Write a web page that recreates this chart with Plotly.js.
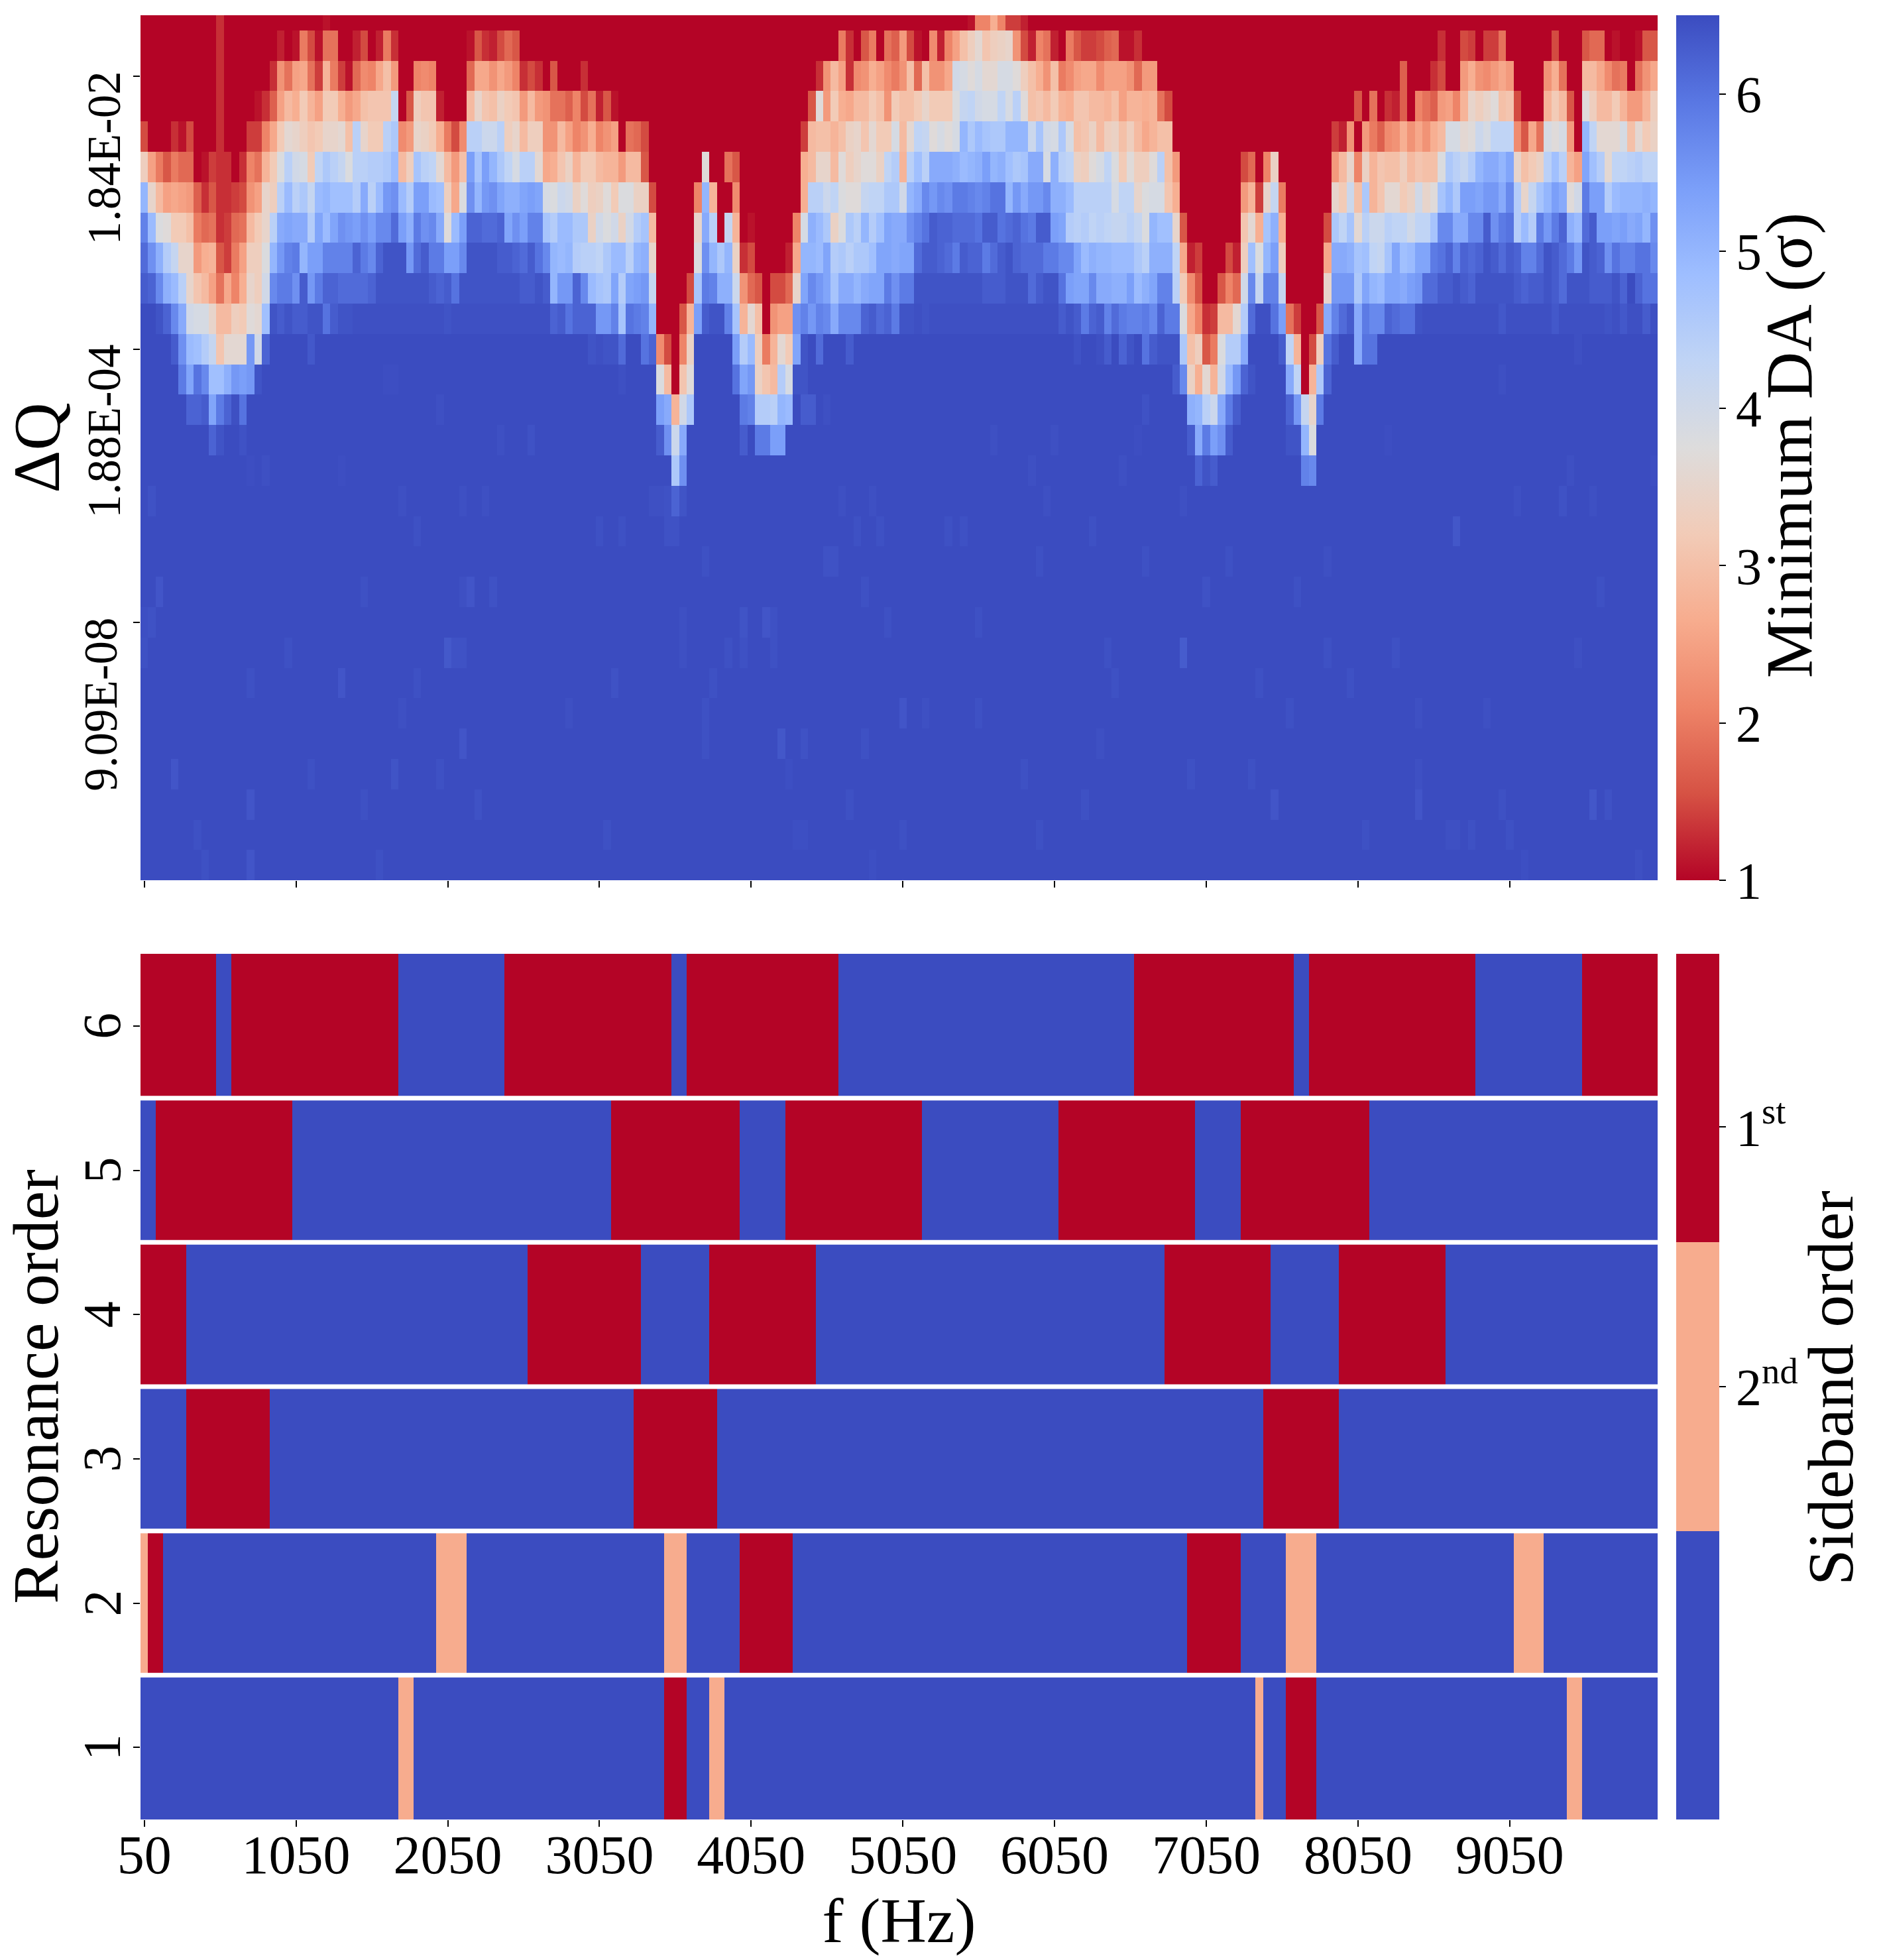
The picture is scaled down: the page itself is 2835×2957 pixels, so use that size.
<!DOCTYPE html>
<html>
<head>
<meta charset="utf-8">
<script src="https://cdn.plot.ly/plotly-3.0.1.min.js"></script>
<style>body { margin: 0; background: white; }</style>
</head>
<body>
<div id="chart"></div>
<script>
// top panel: minimum DA per row of dQ, each row is a list of runs [first bin, v, v, v...]
var row_00 = [[10,1.3],[24,1.1],[109,1.1,2.1,2.1,2.7,2.1,1.4,1.4,1.2]]
var row_01 = [[10,1.3],[18,1.2,1,1.1,2,1.5,1.1,1.9,1.9,1,1,1.2,1.5,1,1.2,2,1.3],[43,1.1,1.6,1.3,1.2,1.5,1.8,1.6],
    [92,2,1.3,1,1.6,2,1,1.9,1.7,2.4,1.5,1.1,1,2.2,1.2,2.1,2.5,3,3.3,3.6,3.1,3.3,3.4,3.5,2.3,1.5,1.2,2.1,1.9,1.2,1,2,1.6,1.4,1.4,1.5,1.7,1.8,1.1,1.1,1.3],
    [171,1.3],[174,1.5,1.4,1,1.4,1.4,1.9],[186,1.5],[190,1.6,1.8,1.8,1,1.1,1,1,1.1,1.6,1.6]]
var row_02 = [[10,1.3],[17,1.3,2.3,1.9,2.5,2.6,1.9,1.4,2.8,2,1.4,1.1,1.8,2.2,2.1,2.6,3,2.4],[36,2.1,2.2,2.1],[43,1.8,2.6,2.6,2.3,2.6,2.4,2.1,1.3,1.5,1.3,1,1.6],[58,1.3],
    [89,1.3,2.3,2.9,2.5,1.3,2.2,2.3,2.7,2.5,2.2,2,2.3,3,1.8,3,2.3,2.3,2.6,4,3.9,3.7,3.9,3.6,3.6,3.9,3.9,3.7,3.3,3,2.7,2.3,3,2,2.2,2.5,2.6,2.6,2.2,2.5,2.5,2.5,2.3,1.8,2.4,2.4],
    [166,1.7],[170,1.3,1.5],[174,2.4,2.7,2.3,2.2,2.4,2.6,2.4],[185,2.3,2.7,1.9],[190,2.9,2.9,2.6,2.2,1.9,2,1,1.9,2.3,2.6]]
var row_03 = [[10,1.3],[15,1.1,1.3,1.7,2.5,2.9,2.7,3.2,2.8,2.5,3.2,3.2,2.7,2.4,2.6,3,3.1,3.1,3.1,4.2,1,1.6,3.3,3.1,3.1,1.2],[43,2.9,3.5,3.1,3,3.4,3.2,3.1,2.4,2.9,2.4,2.3,1.9,1.9,1.7,2.1,1.5,1.9,1.2,1.6,1.1],
    [88,1.6,3.7,2.4,3.2,2.7,2.6,2.9,2.9,3.2,3,2.3,3.2,3,3,3.2,3.5,3.2,3.2,3.2,3.8,4.2,4.3,4,3.9,3.9,4.3,3.9,4.4,3.7,3,3.1,2.9,3.2,2.8,2.7,3.1,3.1,2.9,2.9,2.8,3,2.5,2.8,2.8,2.7,2.8,1.9,1.5],
    [160,1.6,1,1.9,1,1.3,1.2,1.7,1,2.1,1.9,1.7,2.4,2.5,2.1,2.8,3.5,3.3,3.5,3.7,3,3.1,1.5],[185,2.8,3.2,2.9,1.6,1,3.7,3.3,2.9,2.9,3.2,2.8,2.4,2.4,2.8,3.3]]
var row_04 = [[0,1.5,1,1,1,1.3,1.1,1.5],[10,1.3],[14,1.4,1.4,2.1,2.6,3.2,3.6,3.5,3.3,3.1,3.2,3.5,3.5,3.6,3,4.4,3.5,3.2,3.2,4.4,4.6,2.2,2.4,3.5,3.4,3.2,2.7,2,1.5,2.2,4.4,4.4,4.1,4.1,4.4,3.3,3.5,2.9,3.3,3.3,2.3,2.3,2.9,2.5,2.1,2.3,2.7,2.1,2.3,2.5,1,1.9,1.8,1.5],
    [87,1.4,2.9,3,3,2.8,3,3.4,3.5,3.1,3.6,3.2,3.2,3.9,2.9,3.6,4.3,4.2,3.7,3.9,3.7,3.9,5,4.6,4.9,4.7,4.6,4.6,5,5,5,4.1,4.7,4,3.9,4.6,3.9,3,3.1,3.4,2.9,3.3,3.4,3,3.3,2.9,2.6,2.8,3,3],
    [157,1.4,1.2,2.3,1,2.4,2,1.7,2.2,2.3,2.7,2.3,2.6,2.3,2.7,2.9,3.9,3.9,3.6,3.7,4.1,3.9,4.3,4.3,4.3,2.2,1.6,2.6,1.9,3.9,3.7,3.9,2.4,1,5,4.3,3.6,3.6,3.6,3.9,3,3.6,3.2,3.4]]
var row_05 = [[0,3.3,2.5,2,1.6,2,1.8,1.8,1,1.1,1.4,1.3,1.3,1,1.3,2.1,1.9,2.8,3.2,3.8,4.4,4,3.9,3.2,4.3,4.6,4.4,4.2,3.8,4.4,4.4,4.5,4.5,4.6,4.9,2.9,3.3,4.7,4.4,4.3,3.6,2.9,2.4,3,5.4,4.7,5.4,5,4.6,4.3,3.9,4.4,4.4,3.6,2.6,2.7,3.1,3.4,2.8,3.2,3.2,2.9,2.8,2.8,2.4,2.9,2.9,1.6],
    [74,3.7],[77,1.9,1.6],[87,2.7,2.9,3.5,3.5,2.9,3.7,3.3,3.5,3.7,3.7,3.4,4.3,4.5,2.8,4.4,4.8,4.4,5.2,5.2,5.2,5.1,4.9,5,5.1,5.4,5,5.1,4.8,4.6,4.7,5.2,5.2,3.9,5.1,4.4,4.3,3.4,3.3,3.7,3.9,4.3,3.8,3.2,3.7,3.3,3.3,3.7,4.4,3,2.4],
    [145,1.5,1.8,1,2.1,3.4],[157,2.4,2.9,3.5,2.1,3.4,2.8,3.1,3,3,3.3,2.9,3.1,3,3,3.8,4.6,4.4,4.2,4.5,5,5.2,5.2,5,5.3,3.5,3,3.2,3.4,4.4,4.8,4.4,2.8,2.5,5.3,4.8,4.5,3.6,4.3,4.3,4.4,4.5,4.3,4.3]]
var row_06 = [[0,5,3.5,2.9,2.5,2.6,2.5,2.4,1.7,1.3,1.6,1.3,1.3,1.4,1.5,2.3,2.5,3.5,3.3,4.4,4.9,4.4,4.6,4.2,4.9,5,4.8,4.8,4.8,4.5,5.2,4.4,4.9,5.5,5.6,4.9,4.5,5.4,5.4,4.9,4.8,3.3,2.6,3.8,5.6,5,5.5,5.6,5.3,5.1,5.1,5.3,5.4,5.3,3.9,3.8,4.1,4,3.4,3.7,3.3,3.4,3.7,3.2,3.8,3.8,3.4,3.4,1.5],
    [73,2.1,5,2.8],[78,2.2],[87,2.7,4.4,4.4,4.1,4.3,3.8,3.7,3.7,4.2,4.3,4.3,4.6,4.6,4,5,5.2,5.7,5.5,5.7,5.6,5.9,5.9,5.8,5.7,5.8,6,6,5,5.5,5.2,5.5,5.5,5.7,5.1,5.1,4.9,4.4,4.4,4.4,4.4,4.4,3.9,4.3,4.3,3.5,3.8,3.9,3.9,3.1,2.7],
    [145,2.4,2.8,1.4,3.5,4.2,2],[157,3.5,3.2,4.1,3,4.6,2.8,3.1,3.6,3.6,3.2,3.4,4,3.5,3.7,4.7,5,4.6,5.4,5.4,5.3,5.5,5.5,5.2,5.7,4.5,3.5,4.2,4.7,5,5.4,5.2,3.7,4,5.9,5.4,5.4,4.5,4.9,5,5,5,5.1,5]]
var row_07 = [[0,5.8,4.9,3.8,3.7,3.2,3.2,3,2,1.8,1.9,1.3,1.4,1.8,1.9,2.9,3.2,3.5,4.4,5.2,5.3,5.2,5.2,4.5,5.3,4.9,5.3,5.6,5.5,5.4,5.6,5.4,5.7,5.7,6.1,5.4,5.1,5.9,5.6,5.7,5.2,3.7,4.9,5.4,6.2,6.2,6.1,6.1,6.2,5.3,5.6,5.4,5.8,5.8,4.7,4.5,4.9,4.9,4.6,4.6,3.4,4,3.8,4,3.4,4,4.5,4.7,2.9],
    [73,3.5,5.2,4.4,1,4.2,2.8,1,1.1],[86,2.1,3.9,5.1,4.9,4.6,3.4,3.8,4.6,4.4,5,4.5,4.8,5.3,5.2,5.2,5.6,5.8,6,6.3,6.2,6.2,6.1,6.1,6.1,6,6.3,6.3,6,6.1,6.2,6,5.9,6.3,6.3,5.4,5.3,4.5,4.4,4.5,4.3,4.4,4.3,4.2,4.2,4.4,4.2,3.8,5,4.8,4.8,3.5,1.6],
    [145,3.1,3.6,2.7,4.7,5.1,2.7],[156,1.5,4.6,4.3,4.7,3.6,4.4,4.1,4.1,4.4,4.3,4.3,4,4.3,4.3,4.7,5.7,5.7,5.2,5.2,5.7,5.7,6.3,5.6,5.9,6,4.5,4.9,4.5,5.9,5.5,5.9,6.2,5.1,4.9,6.1,6.3,5.4,5.4,5.3,5.4,5.2,5.3,5,5.6]]
var row_08 = [[0,6.1,5.6,5.1,4.5,4.2,3.5,3.5,2.4,2.7,2.8,1.6,1.4,2,2.5,3.3,3.3,3.8,5,5.5,5.8,5.9,5,5.4,5.4,5.8,5.8,5.8,5.8,6.2,5.9,5.7,6.2,6.4,6.4,6.4,5.5,6.1,6.3,5.9,5.9,5.4,5.4,5.7,6.4,6.4,6.4,6.4,6.3,6.3,6.2,6.1,6.3,6,5.7,5,4.9,5,4.5,4.4,4.4,4.3,4.6,4.9,4.9,4.4,5,5.1,3.5],
    [73,3.8,5.6,5,4.6,5,3.4,1.3,1.5],[85,1.2,2.6,5,5,4.9,5.3,4.5,4.6,4.4,4.6,4.6,4.8,5.3,5.3,5.2,5.3,5.3,6.1,6.3,6.3,6.2,6.1,5.9,6.3,6.2,6.2,5.9,6.1,6.3,6.4,6.2,6.1,6.1,6.1,5.9,5.9,5.7,5.7,5.3,4.9,5.1,5,5,4.9,4.9,4.9,4.6,4.4,5.1,5.1,5.1,4.3,2.6,1.2,1.4],
    [143,1.5,1.2,3.3,4.8,3.8,5,5.4,3.3],[156,2.6,5.2,5.2,5.1,4.7,4.8,4.3,4.2,4.7,5.3,4.8,4.9,5.3,5.3,5.9,6,6.2,5.8,6.2,6.1,6.2,6.4,6.3,6.1,6.3,6.2,5.8,5.8,6.1,6.4,6.3,6.1,5.9,5.5,6.4,6.3,6.2,5.6,6,5.8,5.8,6,6,5.7]]
var row_09 = [[0,6.3,6.2,5.7,5.1,4.9,4.4,3.5,3.1,2.9,2.5,1.9,2.6,2.1,2.7,3.5,3.3,4,5.7,5.9,5.9,5.6,6.3,5.5,5.9,6.2,6.2,6.1,6.1,6.1,6.1,6.2,6.4,6.4,6.4,6.4,6.4,6.4,6.4,6.3,6.2,6.3,6,6.4,6.4,6.4,6.4,6.4,6.4,6.4,6.4,6.3,6.3,6.4,6.3,5,5.5,5.5,6.2,5.7,4.9,4.7,4.6,5.3,4.5,5.3,5.4,5.5,4.2],
    [72,1.5,4.7,5.9,5.8,5.1,5.1,4.1,2.3,1.8,1.6,1,1.5,1.5,1.8,3.5,5.3,5.7,5.5,5.3,4.7,5.2,5.2,5,5.2,5.3,5.3,5.9,5.6,5.9,5.9,6.4,6.4,6.4,6.4,6.4,6.4,6.4,6.4,6.4,6.3,6.3,6.3,6.4,6.4,6.4,6.1,6.3,6.4,6.4,6,5.4,5.3,5.3,5.7,5.2,5.2,5.1,5.1,5.4,4.9,5.1,5.3,5.8,5.8,4.4,3.2,2.2,1.6],
    [142,1.6,2.1,1.8,4,5.7,4.2,5.8,5.8,4.2],[156,3.5,5.5,5.5,5.5,4.6,5.3,5,4.9,5.3,5.3,5.2,5.4,5.5,6.1,6.1,6.3,6.3,6.4,6.3,6.2,6.4,6.4,6.4,6.4,6.4,6.3,6.2,6.3,6.3,6.4,6.3,6.1,6.4,6.4,6.4,6.3,6.3,6.3,6.4,6.2,6.5,6.2,6,6]]
var row_10 = [[0,6.5,6.5,6.4,6.2,5.7,5.2,4,3.9,3.9,3.5,2.9,2.9,3.3,3.2,3.7,3.6,4.8,6.4,6.3,6.4,6.3,6.3,6.4,6.4,6,6.3,6.4,6.4],[40,6.4],
    [54,6.2,6.3,6,6.2,6.2,6.2,5.5,5.5,5.8,4.7,6,5.9,5.8,5,1,1,1,1.6,2.8,5.4,6.3,6.4,6.4,5.8,4.7,2.8,3.6,3,1,2.3,2.5,2.5,5.6,5.8,5.5,5.8,5.7,5.2,5.7,5.7,5.7,6.2,6.3,6.1,6.2,5.9,6.4,6.4,6.45,6.4],
    [121,6.3,6.4,6.3,5.9,6.2,6.3,5.8,6.1,5.9,5.8,5.8,5.9,5.7,6.2,5.9,5.9,3.8,2.6,2.1,1.3,1.4,2.9,2.9,3.6,4.5,6.1,6.45,6.45,6,5.4,1.9,1.4,1,1,1.6,5.2,5.8,6.1,6.3,5.2,5.9,5.7,5.7,6.2,6.1,6,6,6.4],
    [179,6.35],[186,6.35],[193,6.4],[195,6.35],[198,6.3]]
var row_11 = [[4,6.3,5.6,4.9,4.8,4.5,4.2,3.1,3.6,3.6,3.6,5.5,4,6.2],[22,6.35],[59,6.4,6.45,6.4,6.4,6.1,6.5,6.5,6,6.2,2.2,1.5,1,2.1,3.4],[78,5.4,4.5,4.9,3.3,2,2.8,3.6,3.2,5.3,6.4],[89,6.1],[93,6.3],[123,6.42],[126,6.45,6.3,6.5,6.2],
    [130,6.4,6.5,6,6.3,6.4,6.4,6.4,4.6,3,3.3,1.6,2,3.8,4.5,4.5,5.2],[150,6.3,4.3,2.8,1,1.5,3.3,6,6.3,6.5,6.5,5.2,6,6],[189,6.45]]
var row_12 = [[5,5.9,5.3,6,5.7,4.8,4.8,5.1,5.5,5.4,5.5,6.4],[32,6.47,6.47],[63,6.45],[68,3.8,2.9,1,3.1,3.7],[78,6,5.3,5.5,3.4,3.1,2.9,4.5,3.9,6.4,6.4],[136,6.3,5.7,3.4,2.7,3.6,2.8,4,4.9,5.5,6.2,6.4],[151,5.2,4.3,1,2.8,4.6,6.2],[179,6.45]]
var row_13 = [[6,6.2,6.2,6.3,5.3,5.9,6.2,6.45,6],[39,6.45],[68,5.4,5.2,2.8,4,4.6],[79,5.9,5.8,4.5,4.5,4.4,5,4.9],[87,6.3,6.3],[90,6.45],[132,6.42],[138,5.1,5,4.4,4.1,5.2,5.9,6.3],[151,6.2,5.5,4.2,3.5,5.9]]
var row_14 = [[9,6.2,6.4],[13,6.42],[47,6.45],[51,6.42],[68,6.3,5.6,4.1,5.2],[79,6.3],[81,5.9,5.9,5.4,5.4],[112,6.45],[120,6.45],[131,6.47],[138,6.3,5.2,5.9,5.4,5.6,6.3],[151,6.4,6.4,5,3.8],[164,6.47]]
var row_15 = [[14,6.47],[16,6.45],[26,6.47],[70,4.6,5.6],[117,6.45],[129,6.45],[139,6.2,6.4,6.3],[153,5.8,5.7],[188,6.45],[199,6.47]]
var row_16 = [[1,6.42],[34,6.45],[42,6.45],[45,6.45],[67,6.45,6.45,6.42,6.2,6.4],[92,6.45],[96,6.45],[119,6.45],[137,6.45],[181,6.45],[187,6.42],[191,6.45]]
var row_17 = [[36,6.44],[60,6.44],[63,6.44],[69,6.42,6.42],[94,6.44],[97,6.44],[106,6.44],[108,6.44],[125,6.44],[173,6.36]]
var row_18 = [[74,6.44],[90,6.42,6.42],[118,6.44],[132,6.44],[143,6.44],[156,6.45]]
var row_19 = [[2,6.38],[29,6.44],[42,6.45,6.38],[46,6.42],[95,6.44],[140,6.42],[152,6.44],[192,6.44]]
var row_20 = [[0,6.46,6.42],[71,6.45],[79,6.4],[82,6.38,6.44],[98,6.44],[110,6.44]]
var row_21 = [[0,6.44],[19,6.44],[40,6.34,6.42,6.42],[71,6.45],[77,6.44],[79,6.44],[83,6.44],[127,6.44],[137,6.3],[156,6.44],[165,6.44],[189,6.45]]
var row_22 = [[14,6.44],[26,6.38],[36,6.44],[62,6.42],[75,6.44],[128,6.44],[147,6.44],[159,6.44]]
var row_23 = [[34,6.45],[56,6.45],[74,6.44],[100,6.38],[103,6.45],[110,6.44],[151,6.44],[168,6.45],[177,6.45]]
var row_24 = [[42,6.38],[74,6.44],[84,6.36],[87,6.42],[95,6.44],[126,6.45]]
var row_25 = [[4,6.38],[22,6.44],[33,6.4],[39,6.44],[85,6.46],[116,6.44],[138,6.44],[146,6.44],[168,6.45]]
var row_26 = [[14,6.38],[29,6.44],[44,6.42],[93,6.44],[124,6.44],[149,6.38],[168,6.38],[179,6.44],[191,6.36],[193,6.42]]
var row_27 = [[7,6.44],[61,6.44],[86,6.46,6.46],[100,6.44],[118,6.44],[161,6.44],[172,6.45,6.45],[175,6.44],[180,6.44]]
var row_28 = [[8,6.44],[14,6.38],[31,6.44],[96,6.46],[182,6.46],[197,6.45]]

var da_rows = [row_00,row_01,row_02,row_03,row_04,row_05,row_06,row_07,row_08,row_09,row_10,row_11,row_12,row_13,row_14,row_15,row_16,row_17,row_18,row_19,row_20,row_21,row_22,row_23,row_24,row_25,row_26,row_27,row_28]
// cells not listed in a run: the red rows sit on the floor, the lower ones on the top of the scale
var da_fill = [1,1,1,1,1,1,1,1,1,1,6.45,6.5,6.5,6.5,6.5,6.5,6.5,6.5,6.5,6.5,6.5,6.5,6.5,6.5,6.5,6.5,6.5,6.5,6.5]

var dq_ticks = [2, 11, 20]
var dq_labels = ["1.84E-02", "1.88E-04", "9.09E-08"]
var f_ticks = [50, 1050, 2050, 3050, 4050, 5050, 6050, 7050, 8050, 9050]

// bottom panel: bin ranges [from, to) of each sideband order, one pair of lists per resonance
var first_1 = [[69,72],[151,155]]
var second_1 = [[34,36],[75,77],[147,148],[188,190]]
var first_2 = [[1,3],[79,86],[138,145]]
var second_2 = [[0,1],[39,43],[69,72],[151,155],[181,185]]
var first_3 = [[6,17],[65,76],[148,158]]
var second_3 = []
var first_4 = [[0,6],[51,66],[75,89],[135,149],[158,172]]
var second_4 = []
var first_5 = [[2,20],[62,79],[85,103],[121,139],[145,162]]
var second_5 = []
var first_6 = [[0,10],[12,34],[48,70],[72,92],[131,152],[154,176],[190,200]]
var second_6 = []

var resonance = [1, 2, 3, 4, 5, 6]
var first_bins = [first_1, first_2, first_3, first_4, first_5, first_6]
var second_bins = [second_1, second_2, second_3, second_4, second_5, second_6]

var f_bins = []
for (i=0; i<200; i++) f_bins.push(50 + 50*i)

function expand(runs, fill) {
    var out = f_bins.map(function() { return fill })
    runs.forEach(function(run) {
        for (j=1; j<run.length; j++) out[run[0] + j - 1] = run[j]
    })
    return out
}

function paint(first, second) {
    var out = f_bins.map(function() { return 0.5 })
    second.forEach(function(r) { for (j=r[0]; j<r[1]; j++) out[j] = 1.5 })
    first.forEach(function(r) { for (j=r[0]; j<r[1]; j++) out[j] = 2.5 })
    return out
}

var da_z = da_rows.map(function(runs, k) { return expand(runs, da_fill[k]) })
var order_z = resonance.map(function(r, k) { return paint(first_bins[k], second_bins[k]) })

var W = 2835, H = 2957
var serif = "Liberation Serif"
var red = '#b40426', salmon = '#f7ac8e', blue = '#3b4cc0'

var trace1 = {
    type: 'heatmap',
    x: f_bins,
    y: da_z.map(function(r, k) { return k }),
    z: da_z,
    zmin: 1,
    zmax: 6.5,
    xaxis: 'x',
    yaxis: 'y',
    colorscale: [[0,'#b40426'],[0.1,'#d65244'],[0.2,'#ee8468'],[0.3,'#f7ac8e'],[0.4,'#f2cbb7'],[0.5,'#dddcdc'],
        [0.6,'#c0d4f5'],[0.7,'#9ebeff'],[0.8,'#7b9ff9'],[0.9,'#5977e3'],[1,'#3b4cc0']],
    colorbar: {
        x: 2529/W, xanchor: 'left', xpad: 0,
        y: 1 - 1328/H, yanchor: 'bottom', ypad: 0,
        len: 1305/H, lenmode: 'fraction',
        thickness: 65, thicknessmode: 'pixels',
        outlinewidth: 0,
        ticks: 'outside', ticklen: 10, tickwidth: 2, tickcolor: 'black',
        tickvals: [1, 2, 3, 4, 5, 6],
        ticktext: ["1", "2", "3", "4", "5", "6"],
        tickfont: {family: serif, size: 78, color: 'black'},
    },
};

var trace2 = {
    type: 'heatmap',
    x: f_bins,
    y: resonance,
    z: order_z,
    zmin: 0,
    zmax: 3,
    xaxis: 'x2',
    yaxis: 'y2',
    colorscale: [[0,blue],[1/3,blue],[1/3,salmon],[2/3,salmon],[2/3,red],[1,red]],
    colorbar: {
        x: 2529/W, xanchor: 'left', xpad: 0,
        y: 1 - 2745/H, yanchor: 'bottom', ypad: 0,
        len: 1306/H, lenmode: 'fraction',
        thickness: 65, thicknessmode: 'pixels',
        outlinewidth: 0,
        ticks: 'outside', ticklen: 10, tickwidth: 2, tickcolor: 'black',
        tickvals: [2.4, 1.5],
        ticktext: ["1<sup>st</sup>", "2<sup>nd</sup>"],
        tickfont: {family: serif, size: 78, color: 'black'},
    },
};

var gaps = [1.5, 2.5, 3.5, 4.5, 5.5].map(function(y) {
    return {type: 'line', xref: 'x2', yref: 'y2', x0: 25, x1: 10025, y0: y, y1: y, line: {color: 'white', width: 7}}
})

var notes = [
    {text: "Minimum DA (σ)", xref: 'paper', yref: 'paper', x: 2700/W, y: 1 - 672/H, xanchor: 'center', yanchor: 'middle',
        textangle: -90, showarrow: false, font: {family: serif, size: 99}},
    {text: "Sideband order", xref: 'paper', yref: 'paper', x: 2762/W, y: 1 - 2094/H, xanchor: 'center', yanchor: 'middle',
        textangle: -90, showarrow: false, font: {family: serif, size: 98}},
]

// rotated dQ labels hang below their tick, so they go in as notes instead of tick labels
dq_ticks.forEach(function(t, k) {
    notes.push({text: dq_labels[k], xref: 'paper', yref: 'y', x: (k == 2 ? 152 : 157)/W, y: t, xanchor: 'center', yanchor: 'top',
        yshift: 9, textangle: -90, showarrow: false, font: {family: serif, size: 71}})
})
resonance.forEach(function(r) {
    notes.push({text: String(r), xref: 'paper', yref: 'y2', x: 154/W, y: r, xanchor: 'center', yanchor: 'middle',
        textangle: -90, showarrow: false, font: {family: serif, size: 80}})
})

var layout = {
    width: W,
    height: H,
    margin: {t: 0, l: 0, r: 0, b: 0, pad: 0},
    paper_bgcolor: 'white',
    plot_bgcolor: 'white',
    font: {family: serif, color: 'black'},
    showlegend: false,
    shapes: gaps,
    annotations: notes,
    xaxis: {
        domain: [212/W, 2501/W],
        range: [25, 10025],
        anchor: 'y',
        tickvals: f_ticks,
        showticklabels: false,
        ticks: 'outside', ticklen: 10, tickwidth: 2, tickcolor: 'black',
        showgrid: false, zeroline: false, showline: false,
    },
    yaxis: {
        domain: [1 - 1328/H, 1 - 23/H],
        range: [28.5, 0],
        anchor: 'x',
        tickvals: dq_ticks,
        showticklabels: false,
        ticks: 'outside', ticklen: 10, tickwidth: 2, tickcolor: 'black',
        showgrid: false, zeroline: false, showline: false,
        title: {text: "ΔQ", font: {family: serif, size: 100}, standoff: 100},
    },
    xaxis2: {
        domain: [212/W, 2501/W],
        range: [25, 10025],
        anchor: 'y2',
        tickvals: f_ticks,
        ticktext: f_ticks.map(String),
        tickangle: 0,
        ticklabelstandoff: -28,
        ticks: 'outside', ticklen: 10, tickwidth: 2, tickcolor: 'black',
        tickfont: {family: serif, size: 82},
        showgrid: false, zeroline: false, showline: false,
        title: {text: "f (Hz)", font: {family: serif, size: 96}, standoff: 2},
    },
    yaxis2: {
        domain: [1 - 2745/H, 1 - 1439/H],
        range: [0.5, 6.5],
        anchor: 'x2',
        tickvals: resonance,
        showticklabels: false,
        ticks: 'outside', ticklen: 10, tickwidth: 2, tickcolor: 'black',
        showgrid: false, zeroline: false, showline: false,
        title: {text: "Resonance order", font: {family: serif, size: 98}, standoff: 100},
    },
};

Plotly.newPlot('chart', [trace1, trace2], layout, {displayModeBar: false, responsive: false});
</script>
</body>
</html>
